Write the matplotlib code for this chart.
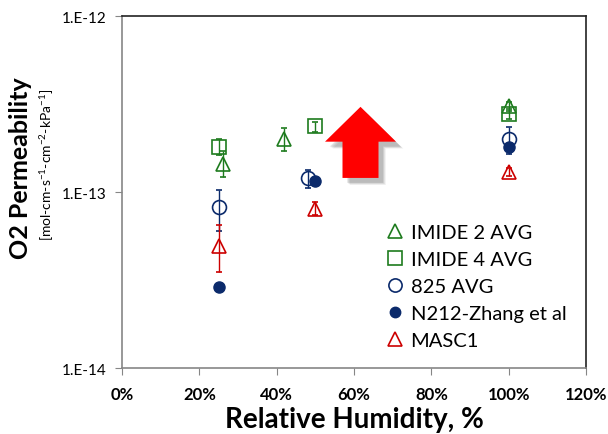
import matplotlib.pyplot as plt
import numpy as np
from matplotlib.lines import Line2D
from matplotlib.patches import Polygon
from matplotlib.ticker import FixedLocator, FuncFormatter

plt.rcParams["font.family"] = ["Lato", "DejaVu Sans"]

# relative humidity (%) and O2 permeability for each series
imide2_rh = [26, 42, 100]
imide2_p = [1.44e-13, 2.00e-13, 3.08e-13]
imide2_lo = [1.22e-13, 1.71e-13, 2.90e-13]
imide2_hi = [1.71e-13, 2.31e-13, 3.25e-13]

imide4_rh = [25, 50, 100]
imide4_p = [1.80e-13, 2.37e-13, 2.77e-13]
imide4_lo = [1.62e-13, 2.19e-13, 2.60e-13]
imide4_hi = [2.00e-13, 2.50e-13, 2.95e-13]

s825_rh = [25, 48, 100]
s825_p = [8.2e-14, 1.20e-13, 2.00e-13]
s825_lo = [6.0e-14, 1.05e-13, 1.64e-13]
s825_hi = [1.03e-13, 1.33e-13, 2.34e-13]

n212_rh = [25, 50, 100]
n212_p = [2.9e-14, 1.16e-13, 1.80e-13]

masc1_rh = [25, 50, 100]
masc1_p = [4.93e-14, 8.0e-14, 1.30e-13]
masc1_lo = [3.5e-14, 7.4e-14, 1.24e-13]
masc1_hi = [6.5e-14, 8.8e-14, 1.37e-13]

green = "#1E7B1E"
navy = "#0B2A6B"
red = "#CC0000"

fig = plt.figure(figsize=(6.08, 4.35), dpi=100)
ax = fig.add_axes([0.2007, 0.1517, 0.7631, 0.8092])


def errs(p, lo, hi):
    p = np.array(p)
    return [p - np.array(lo), np.array(hi) - p]


ekw = dict(elinewidth=1.0, capsize=2.5, capthick=1.0, linestyle="none", zorder=4)
ax.errorbar(imide2_rh, imide2_p, yerr=errs(imide2_p, imide2_lo, imide2_hi),
            marker="^", ms=10, mfc="none", mec=green, mew=1.2, color=green, **ekw)
ax.errorbar(imide4_rh, imide4_p, yerr=errs(imide4_p, imide4_lo, imide4_hi),
            marker="s", ms=10, mfc="none", mec=green, mew=1.2, color=green, **ekw)
ax.errorbar(s825_rh, s825_p, yerr=errs(s825_p, s825_lo, s825_hi),
            marker="o", ms=10, mfc="none", mec=navy, mew=1.2, color=navy, **ekw)
ax.plot(n212_rh, n212_p, "o", ms=8, color=navy, zorder=5)
ax.errorbar(masc1_rh, masc1_p, yerr=errs(masc1_p, masc1_lo, masc1_hi),
            marker="^", ms=10, mfc="none", mec=red, mew=1.2, color=red, **ekw)

# big red arrow with soft shadow (axes fraction)
tip = (0.514, 0.742)
head_y, shaft_y = 0.643, 0.540
hw, sw = 0.0765, 0.0388
cx = tip[0]
arrow_pts = np.array([
    [cx, tip[1]], [cx + hw, head_y], [cx + sw, head_y], [cx + sw, shaft_y],
    [cx - sw, shaft_y], [cx - sw, head_y], [cx - hw, head_y],
])
for i, a in enumerate([0.05, 0.06, 0.08, 0.10]):
    off = np.array([0.010 + 0.002 * (3 - i), -0.014 - 0.002 * (3 - i)])
    ax.add_patch(Polygon(arrow_pts + off, closed=True, transform=ax.transAxes,
                         facecolor="black", edgecolor="none", alpha=a, zorder=2))
ax.add_patch(Polygon(arrow_pts, closed=True, transform=ax.transAxes,
                     facecolor="#FF0000", edgecolor="none", zorder=3))

ax.set_yscale("log")
ax.set_ylim(1e-14, 1e-12)
ax.set_xlim(0, 120)
ax.yaxis.set_major_locator(FixedLocator([1e-14, 1e-13, 1e-12]))
ax.yaxis.set_minor_locator(FixedLocator([]))
ax.yaxis.set_major_formatter(FuncFormatter(lambda v, p: "1.E%d" % round(np.log10(v))))
ax.set_xticks(np.arange(0, 121, 20))
ax.xaxis.set_major_formatter(FuncFormatter(lambda v, p: "%d%%" % v))
ax.tick_params(axis="y", direction="out", length=5, color="#868686", labelsize=11, pad=6)
ax.tick_params(axis="x", direction="out", length=5, color="#868686", labelsize=12, pad=8)
for lab in ax.get_xticklabels():
    lab.set_fontweight("bold")

ax.spines["left"].set_color("#868686")
ax.spines["bottom"].set_color("#868686")
ax.spines["top"].set_color("#222222")
ax.spines["right"].set_color("#222222")
for s in ax.spines.values():
    s.set_linewidth(1.2)

ax.set_xlabel("Relative Humidity, %", fontsize=20, fontweight="bold", labelpad=3)
fig.text(0.034, 0.614, "O2 Permeability", rotation=90, fontsize=18,
         fontweight="bold", ha="center", va="center")
fig.text(0.077, 0.622, r"[mol-cm-s$^{\mathregular{-1}}$-cm$^{\mathregular{-2}}$-kPa$^{\mathregular{-1}}$]",
         rotation=90, fontsize=10, ha="center", va="center")

handles = [
    Line2D([], [], ls="none", marker="^", ms=9.5, mfc="none", mec=green, mew=1.2),
    Line2D([], [], ls="none", marker="s", ms=9.5, mfc="none", mec=green, mew=1.2),
    Line2D([], [], ls="none", marker="o", ms=9.5, mfc="none", mec=navy, mew=1.2),
    Line2D([], [], ls="none", marker="o", ms=7.5, color=navy),
    Line2D([], [], ls="none", marker="^", ms=9.5, mfc="none", mec=red, mew=1.2),
]
labels = ["IMIDE 2 AVG", "IMIDE 4 AVG", "825 AVG", "N212-Zhang et al", "MASC1"]
ax.legend(handles, labels, loc="upper left", bbox_to_anchor=(0.572, 0.41),
          frameon=False, fontsize=14.5, handlelength=0.8, handletextpad=0.35,
          labelspacing=0.5, borderaxespad=0, borderpad=0)

fig.savefig("out.png", dpi=100)
